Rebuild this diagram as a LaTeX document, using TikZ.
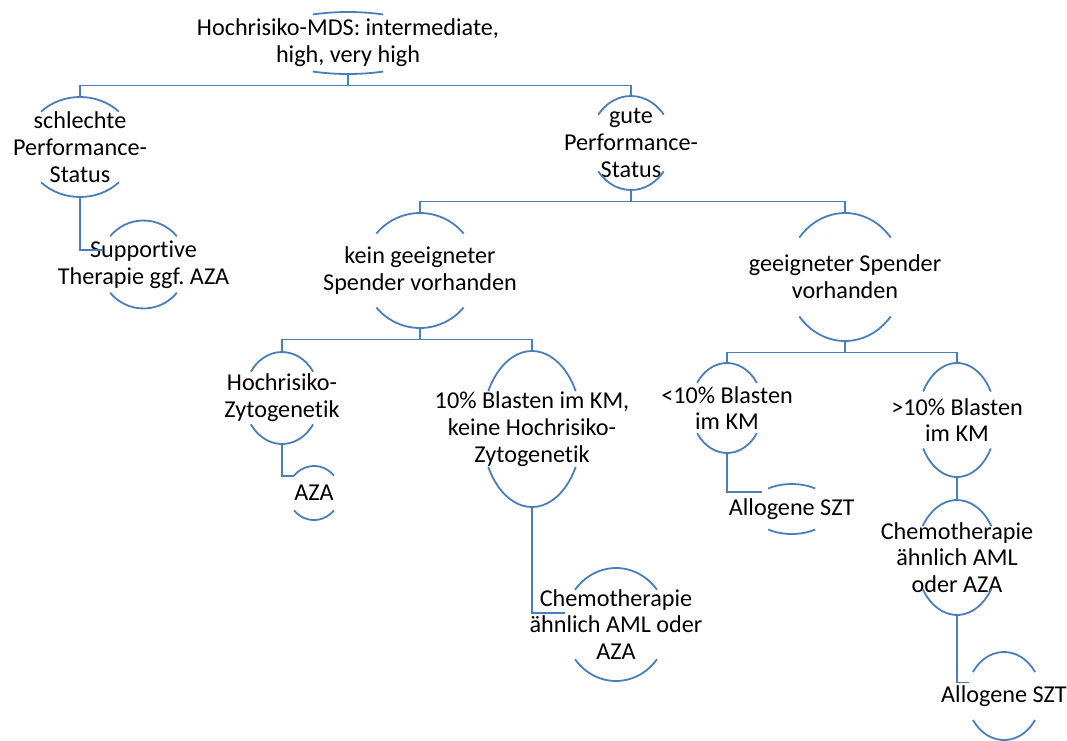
\documentclass[tikz,border=0pt]{standalone}
\usepackage{fontspec}
\setmainfont{Carlito}[Ligatures=NoCommon]
\usetikzlibrary{shapes.geometric}
\definecolor{smartblue}{HTML}{4A7EBB}
\frenchspacing
\tikzset{
  bubble/.style={ellipse, inner sep=0pt, outer sep=0pt},
  txt/.style={align=center, inner sep=0pt, font=\fontsize{24.2}{26.7}\selectfont},
  arcline/.style={smartblue, line width=1.8pt},
  link/.style={smartblue, line width=1.8pt}
}
% top and bottom arcs of a bubble: name, x radius, y radius, half angle
\newcommand\bubblearcs[4]{%
  \draw[arcline] (#1.center) ++(90-#4:#2pt and #3pt)
    arc[start angle=90-#4, end angle=90+#4, x radius=#2pt, y radius=#3pt];
  \draw[arcline] (#1.center) ++(270-#4:#2pt and #3pt)
    arc[start angle=270-#4, end angle=270+#4, x radius=#2pt, y radius=#3pt];
}
\begin{document}
\begin{tikzpicture}[x=1pt,y=1pt]
    \useasboundingbox (0,0) rectangle (1067,-740);

    %risk groups and performance status
    \node[bubble, minimum width=180pt, minimum height=62pt,
      label={[txt]center:{Hochrisiko-MDS: intermediate,\\high, very high}}] (root) at (348,-43) {};
    \node[bubble, minimum width=110pt, minimum height=100pt,
      label={[txt]center:{schlechte\\Performance-\\Status}}] (badps) at (80,-147) {};
    \node[bubble, minimum width=82pt, minimum height=94pt,
      label={[txt]center:{gute\\Performance-\\Status}}] (goodps) at (631,-143) {};
    \node[bubble, minimum width=87pt, minimum height=88pt,
      label={[txt]center:{Supportive\\Therapie ggf. AZA}}] (supp) at (143.5,-264.5) {};

    %donor
    \node[bubble, minimum width=114pt, minimum height=115pt,
      label={[txt]center:{kein geeigneter\\Spender vorhanden}}] (nodonor) at (420,-270.5) {};
    \node[bubble, minimum width=116pt, minimum height=128pt,
      label={[txt]center:{geeigneter Spender\\vorhanden}}] (donor) at (845,-277) {};

    %no donor branch
    \node[bubble, minimum width=76pt, minimum height=92pt,
      label={[txt]center:{Hochrisiko-\\Zytogenetik}}] (hrzyto) at (282,-398) {};
    \node[bubble, minimum width=52pt, minimum height=54pt,
      label={[txt]center:{AZA}}] (aza) at (314,-493) {};
    \node[bubble, minimum width=100pt, minimum height=156pt,
      label={[txt]center:{10\% Blasten im KM,\\keine Hochrisiko-\\Zytogenetik}}] (blast) at (532,-429) {};
    \node[bubble, minimum width=104pt, minimum height=113pt,
      label={[txt]center:{Chemotherapie\\ähnlich AML oder\\AZA}}] (chemoA) at (616,-624.5) {};

    %donor branch
    \node[bubble, minimum width=72pt, minimum height=90pt,
      label={[txt]center:{<10\% Blasten\\im KM}}] (lowblast) at (727,-408) {};
    \node[bubble, minimum width=82pt, minimum height=50pt,
      label={[txt]center:{Allogene SZT}}] (sztA) at (791.7,-509) {};
    \node[bubble, minimum width=78pt, minimum height=114pt,
      label={[txt]center:{>10\% Blasten\\im KM}}] (highblast) at (957,-420) {};
    \node[bubble, minimum width=82pt, minimum height=115pt,
      label={[txt]center:{Chemotherapie\\ähnlich AML\\oder AZA}}] (chemoB) at (957,-557.5) {};
    \node[bubble, minimum width=74pt, minimum height=88pt,
      label={[txt]center:{Allogene SZT}}] (sztB) at (1004,-696) {};

    \bubblearcs{root}{90}{31}{23}
    \bubblearcs{badps}{55}{50}{45}
    \bubblearcs{goodps}{41}{47}{53}
    \bubblearcs{supp}{43.5}{44}{50}
    \bubblearcs{nodonor}{57}{57.5}{50}
    \bubblearcs{donor}{58}{64}{52}
    \bubblearcs{hrzyto}{38}{46}{55}
    \bubblearcs{aza}{26}{27}{50}
    \bubblearcs{blast}{50}{78}{61}
    \bubblearcs{chemoA}{52}{56.5}{52}
    \bubblearcs{lowblast}{36}{45}{56}
    \bubblearcs{sztA}{41}{25}{35}
    \bubblearcs{highblast}{39}{57}{60}
    \bubblearcs{chemoB}{41}{57.5}{57}
    \bubblearcs{sztB}{37}{44}{57}

    %connectors
    \draw[link] (root.south) -- ++(0,-11.5) -| (badps.north);
    \draw[link] (root.south) -- ++(0,-11.5) -| (goodps.north);
    \draw[link] (badps.south) |- (supp.160);
    \draw[link] (goodps.south) -- ++(0,-11.5) -| (nodonor.north);
    \draw[link] (goodps.south) -- ++(0,-11.5) -| (donor.north);
    \draw[link] (nodonor.south) -- ++(0,-11.5) -| (hrzyto.north);
    \draw[link] (nodonor.south) -- ++(0,-11.5) -| (blast.north);
    \draw[link] (hrzyto.south) |- (aza.140);
    \draw[link] (blast.south) |- (chemoA.167);
    \draw[link] (donor.south) -- ++(0,-11.5) -| (lowblast.north);
    \draw[link] (donor.south) -- ++(0,-11.5) -| (highblast.north);
    \draw[link] (lowblast.south) |- (sztA.150);
    \draw[link] (highblast.south) -- (chemoB.north);
    \draw[link] (chemoB.south) |- (sztB.159);

\end{tikzpicture}
\end{document}
